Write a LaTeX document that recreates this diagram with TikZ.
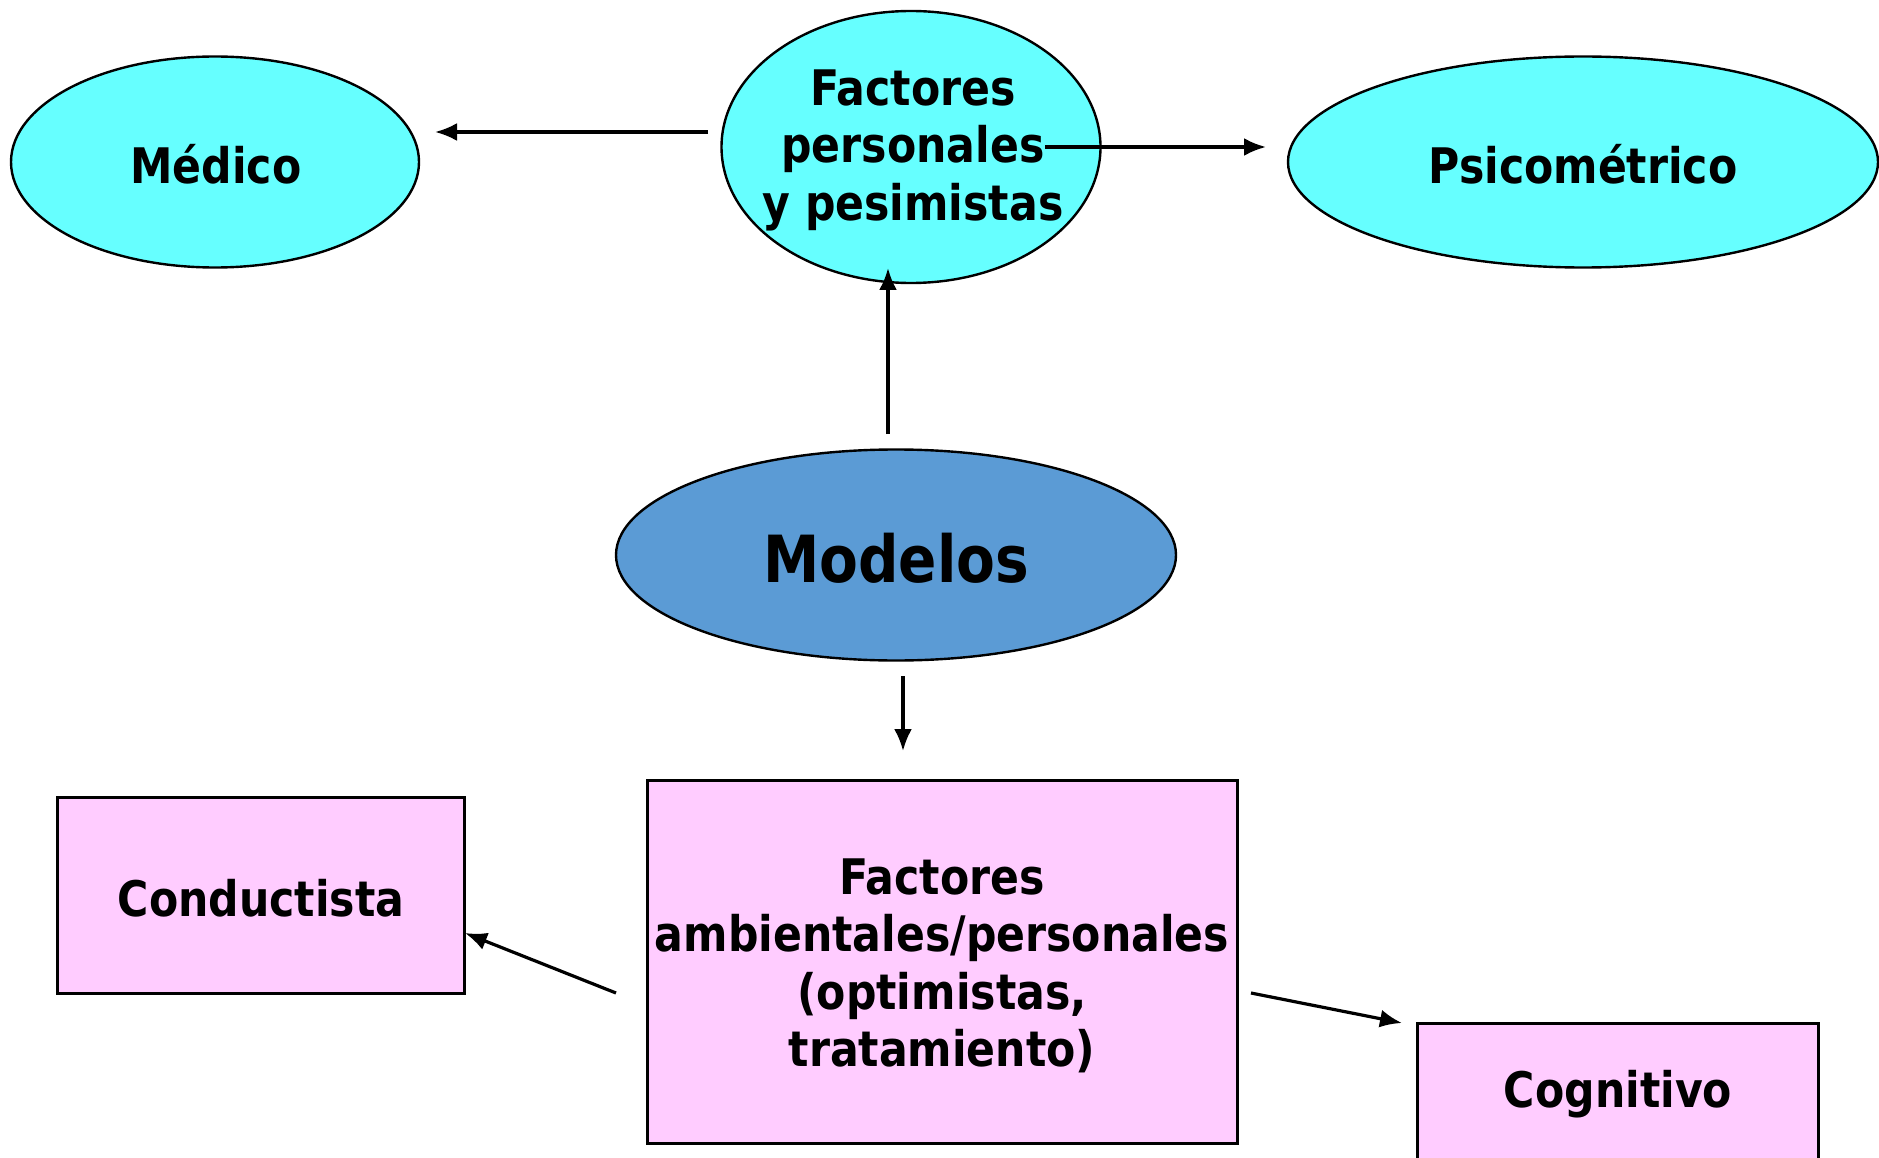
\documentclass[tikz,border=0pt]{standalone}
\usepackage{fontspec}
\newfontfamily\tahomalike{DejaVu Sans}[FakeStretch=0.87]
\usetikzlibrary{arrows.meta,shapes.geometric}
\definecolor{celeste}{HTML}{66FFFF}
\definecolor{azul}{HTML}{5B9BD5}
\definecolor{rosa}{HTML}{FFCCFF}
\begin{document}
\begin{tikzpicture}[x=1pt, y=-1pt, >={Latex[length=22pt,width=18pt]},
        flecha/.style={->, line width=3.2pt},
        elipse/.style={ellipse, draw, line width=2.4pt, fill=celeste, inner sep=0pt},
        caja/.style={rectangle, draw, line width=3pt, fill=rosa, inner sep=0pt},
        texto/.style={font=\tahomalike\bfseries\fontsize{49}{57.5}\selectfont, align=center, inner sep=0pt}]
    \clip (0,0) rectangle (1879,1158);

    \node[elipse, minimum width=408, minimum height=211]    (med)  at (215,162)   {};
    \node[elipse, minimum width=379, minimum height=272]    (fp)   at (911,147)   {};
    \node[elipse, minimum width=590, minimum height=211]    (psi)  at (1583,162)  {};
    \node[elipse, fill=azul, minimum width=560, minimum height=211] (mod) at (896,555) {};

    \node[texto]                          (medt)  at (216,164)  {Médico};
    \node[texto]                          (fpt)   at (913,150)  {Factores\\personales\\y pesimistas};
    \node[texto]                          (psit)  at (1583,164) {Psicométrico};
    \node[texto, font=\tahomalike\bfseries\fontsize{65}{70}\selectfont] (modt) at (896,558) {Modelos};

    \node[caja, minimum width=590, minimum height=363]      (amb)  at (942,962)   {};
    \node[caja, minimum width=407, minimum height=196]      (con)  at (261,895)   {};
    \node[caja, minimum width=401, minimum height=150]      (cog)  at (1618,1098) {};

    \node[texto]                          (ambt)  at (942,966)  {Factores\\ambientales/personales\\(optimistas,\\tratamiento)};
    \node[texto]                          (cont)  at (261,898)  {Conductista};
    \node[texto]                          (cogt)  at (1618,1094) {Cognitivo};

    \coordinate (a1) at (708,132);   \coordinate (b1) at (435,132);
    \coordinate (a2) at (1045,147);  \coordinate (b2) at (1266,147);
    \coordinate (a3) at (888,434);   \coordinate (b3) at (888,268);
    \coordinate (a4) at (903,676);   \coordinate (b4) at (903,751);
    \coordinate (a5) at (616,993);   \coordinate (b5) at (465,933);
    \coordinate (a6) at (1251,993);  \coordinate (b6) at (1402,1023);

    \draw[flecha] (a1) -- (b1);
    \draw[flecha] (a2) -- (b2);
    \draw[flecha] (a3) -- (b3);
    \draw[flecha] (a4) -- (b4);
    \draw[flecha] (a5) -- (b5);
    \draw[flecha] (a6) -- (b6);
\end{tikzpicture}
\end{document}
